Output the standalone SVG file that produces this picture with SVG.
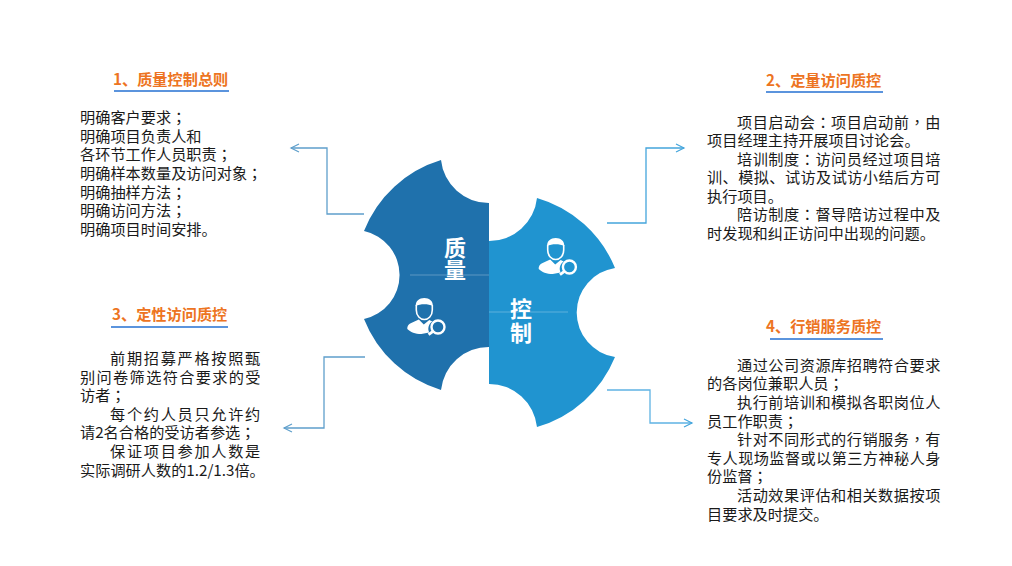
<svg xmlns="http://www.w3.org/2000/svg" width="1012" height="566" viewBox="0 0 1012 566">
<style>
text{font-family:"Noto Sans CJK SC","Liberation Sans",sans-serif}
.b{font-size:15.2px;fill:#1a1a1a}
.p{font-family:"Noto Sans CJK TC",sans-serif}
.h{font-size:15.2px;font-weight:700;fill:#ed7422}
.u{stroke:#5b94dd;stroke-width:2;fill:none}
.c{font-size:22px;font-weight:700;fill:#fff;text-anchor:middle}
.s{fill:none;stroke-width:1.3}
.l{stroke:#fff;stroke-opacity:.28;stroke-width:1}
.j1{letter-spacing:.49px}
.j2{letter-spacing:.4px}
.j3{letter-spacing:1.7px}
.j4{letter-spacing:1.35px}
</style>
<defs>
<marker id="a1" markerWidth="12" markerHeight="12" refX="9" refY="5" orient="auto" markerUnits="userSpaceOnUse"><path d="M1 1L9 5L1 9" fill="none" stroke="#5f9fcb" stroke-width="1.2"/></marker>
<marker id="a2" markerWidth="12" markerHeight="12" refX="9" refY="5" orient="auto" markerUnits="userSpaceOnUse"><path d="M1 1L9 5L1 9" fill="none" stroke="#44a5dc" stroke-width="1.2"/></marker>
<g id="person">
<path fill="#fff" d="M8.5 8C8 3 12 0 17 0S26 3 25.5 8C21 5.5 13 5.5 8.5 8Z"/>
<path fill="none" stroke="#fff" stroke-width="1.6" d="M9 7V12C9 18 13 21.5 17 21.5S25 18 25 12V7"/>
<path fill="#fff" d="M0 31C0 27 2 25.500 5 24.500L11.500 21.500L16.500 26.500L22 22L25 23.500C21 26 20 31 22 34.500L14 36C8 36 3 34 0 31Z"/>
<circle cx="30.700" cy="29" r="6.500" fill="none" stroke="#fff" stroke-width="2.400"/>
<path fill="none" stroke="#fff" stroke-width="2.800" d="M25.700 33.300L21.300 36.700"/>
</g>
</defs>
<g id="connectors">
<path class="s" stroke="#5f9fcb" marker-end="url(#a1)" d="M364 214H327V148H291"/>
<path class="s" stroke="#44a5dc" marker-end="url(#a2)" d="M607 223H646V148H684"/>
<path class="s" stroke="#5f9fcb" marker-end="url(#a1)" d="M365 357H324V428H284"/>
<path class="s" stroke="#5fb3e3" marker-end="url(#a2)" d="M607 390H650V423H692"/>
</g>
<g id="node-quality">
<path fill="#1f71ac" d="M441 160A48 48 0 0 0 489 203V347A48 48 0 0 0 441 390A120 120 0 0 1 364 319A45 45 0 0 0 364 231A120 120 0 0 1 441 160Z"/>
<text class="c" x="455" y="256">质</text><text class="c" x="455" y="278">量</text>
<path class="l" d="M410 275H489"/>
<use href="#person" x="407.300" y="298"/>
</g>
<g id="node-control">
<path fill="#2094d0" d="M537 198A48 48 0 0 1 489 241V384A48 48 0 0 1 537 427A120 120 0 0 0 615 357A45 45 0 0 1 615 268A120 120 0 0 0 537 198Z"/>
<text class="c" x="521" y="317">控</text><text class="c" x="521" y="341">制</text>
<path class="l" d="M489 312H568"/>
<use href="#person" x="538.700" y="238"/>
</g>
<g id="node-1">
<text class="h" x="113" y="85">1、质量控制总则</text><path class="u" d="M114 91H229"/>
<text class="b">
<tspan x="80" y="123">明确客户要求<tspan class="p">；</tspan></tspan>
<tspan x="80" y="142">明确项目负责人和</tspan>
<tspan x="80" y="160">各环节工作人员职责<tspan class="p">；</tspan></tspan>
<tspan x="80" y="179">明确样本数量及访问对象<tspan class="p">；</tspan></tspan>
<tspan x="80" y="198">明确抽样方法<tspan class="p">；</tspan></tspan>
<tspan x="80" y="216">明确访问方法<tspan class="p">；</tspan></tspan>
<tspan x="80" y="235">明确项目时间安排。</tspan>
</text>
</g>
<g id="node-2">
<text class="h" x="766" y="86">2、定量访问质控</text><path class="u" d="M766 92H883"/>
<text class="b">
<tspan class="j1" x="737" y="128">项目启动会<tspan class="p">：</tspan>项目启动前<tspan class="p">，</tspan>由</tspan>
<tspan x="707" y="146">项目经理主持开展项目讨论会。</tspan>
<tspan class="j1" x="737" y="165">培训制度<tspan class="p">：</tspan>访问员经过项目培</tspan>
<tspan class="j2" x="707" y="183">训、模拟、试访及试访小结后方可</tspan>
<tspan x="707" y="202">执行项目。</tspan>
<tspan class="j1" x="737" y="220">陪访制度<tspan class="p">：</tspan>督导陪访过程中及</tspan>
<tspan x="707" y="239">时发现和纠正访问中出现的问题。</tspan>
</text>
</g>
<g id="node-3">
<text class="h" x="112" y="320">3、定性访问质控</text><path class="u" d="M111 327H228"/>
<text class="b">
<tspan class="j3" x="110" y="364">前期招募严格按照甄</tspan>
<tspan class="j4" x="80" y="383">别问卷筛选符合要求的受</tspan>
<tspan x="80" y="401">访者<tspan class="p">；</tspan></tspan>
<tspan class="j3" x="110" y="420">每个约人员只允许约</tspan>
<tspan x="80" y="438">请2名合格的受访者参选<tspan class="p">；</tspan></tspan>
<tspan class="j3" x="110" y="457">保证项目参加人数是</tspan>
<tspan x="80" y="476">实际调研人数的1.2/1.3倍。</tspan>
</text>
</g>
<g id="node-4">
<text class="h" x="766" y="332">4、行销服务质控</text><path class="u" d="M770 339H883"/>
<text class="b">
<tspan class="j1" x="737" y="371">通过公司资源库招聘符合要求</tspan>
<tspan x="707" y="389">的各岗位兼职人员<tspan class="p">；</tspan></tspan>
<tspan class="j1" x="737" y="408">执行前培训和模拟各职岗位人</tspan>
<tspan x="707" y="427">员工作职责<tspan class="p">；</tspan></tspan>
<tspan class="j1" x="737" y="445">针对不同形式的行销服务<tspan class="p">，</tspan>有</tspan>
<tspan class="j2" x="707" y="464">专人现场监督或以第三方神秘人身</tspan>
<tspan x="707" y="482">份监督<tspan class="p">；</tspan></tspan>
<tspan class="j1" x="737" y="501">活动效果评估和相关数据按项</tspan>
<tspan x="707" y="520">目要求及时提交。</tspan>
</text>
</g>
</svg>
